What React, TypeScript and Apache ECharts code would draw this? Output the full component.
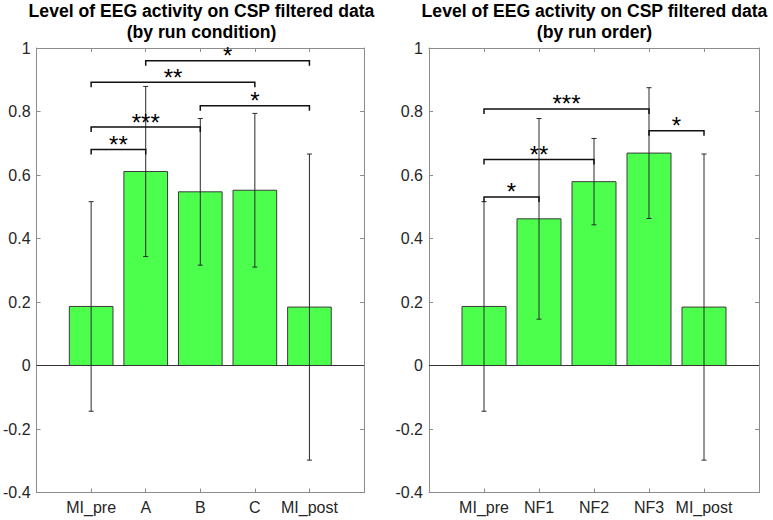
import React, { useEffect, useRef } from 'react';
import * as echarts from 'echarts';

// ---- data ----
const leftTitle = 'Level of EEG activity on CSP filtered data\n(by run condition)';
const rightTitle = 'Level of EEG activity on CSP filtered data\n(by run order)';

const leftCategories = ['MI_pre', 'A', 'B', 'C', 'MI_post'];
const leftMeans = [0.186, 0.611, 0.547, 0.552, 0.184];
const leftErrors = [0.33, 0.268, 0.231, 0.242, 0.482];
// [fromIndex, toIndex, height, label]
const leftBrackets: [number, number, number, string][] = [
  [0, 1, 0.68, '**'],
  [0, 2, 0.751, '***'],
  [0, 3, 0.892, '**'],
  [2, 4, 0.818, '*'],
  [1, 4, 0.96, '*'],
];

const rightCategories = ['MI_pre', 'NF1', 'NF2', 'NF3', 'MI_post'];
const rightMeans = [0.186, 0.462, 0.579, 0.669, 0.184];
const rightErrors = [0.33, 0.316, 0.136, 0.206, 0.482];
const rightBrackets: [number, number, number, string][] = [
  [0, 1, 0.531, '*'],
  [0, 2, 0.649, '**'],
  [0, 3, 0.808, '***'],
  [3, 4, 0.739, '*'],
];

const yMin = -0.4;
const yMax = 1;
const yInterval = 0.2;

const FONT = "'Liberation Sans', Arial, Helvetica, sans-serif";
const AXIS_COLOR = '#8c8c8c';
const TEXT_COLOR = '#262626';
const BAR_FILL = '#4dff4d';
const BAR_EDGE = '#3c3c3c';

function axesFor(gridIndex: number, cats: string[]) {
  const lineStyle = { color: AXIS_COLOR, width: 1 };
  const xAxes = [
    {
      type: 'value', gridIndex, min: 0, max: cats.length + 1, interval: 1,
      axisLine: { show: true, onZero: false, lineStyle },
      axisTick: { show: true, inside: true, length: 4, lineStyle },
      splitLine: { show: false },
      axisLabel: {
        show: true, margin: 7, color: TEXT_COLOR, fontSize: 16, fontFamily: FONT,
        formatter: (v: number) => cats[Math.round(v) - 1] ?? '',
      },
    },
    {
      type: 'value', gridIndex, position: 'top', min: 0, max: cats.length + 1, interval: 1,
      axisLine: { show: true, onZero: false, lineStyle },
      axisTick: { show: true, inside: true, length: 4, lineStyle },
      splitLine: { show: false },
      axisLabel: { show: false },
    },
  ];
  const yAxes = [
    {
      type: 'value', gridIndex, min: yMin, max: yMax, interval: yInterval,
      axisLine: { show: true, onZero: false, lineStyle },
      axisTick: { show: true, inside: true, length: 4, lineStyle },
      splitLine: { show: false },
      axisLabel: {
        show: true, margin: 6, color: TEXT_COLOR, fontSize: 16, fontFamily: FONT,
        formatter: (v: number) => String(parseFloat(v.toFixed(1))),
      },
    },
    {
      type: 'value', gridIndex, position: 'right', min: yMin, max: yMax, interval: yInterval,
      axisLine: { show: true, onZero: false, lineStyle },
      axisTick: { show: true, inside: true, length: 4, lineStyle },
      splitLine: { show: false },
      axisLabel: { show: false },
    },
  ];
  return { xAxes, yAxes };
}

function seriesFor(gridIndex: number, cats: string[], means: number[], errors: number[], brackets: [number, number, number, string][]) {
  const xAxisIndex = gridIndex * 2;
  const yAxisIndex = gridIndex * 2;
  const n = cats.length;
  return [
    {
      type: 'custom', xAxisIndex, yAxisIndex, z: 2,
      data: means.map((m, i) => [i + 1, m]),
      renderItem: (params: any, api: any) => {
        const x = api.value(0);
        const y = api.value(1);
        const p0 = api.coord([x, 0]);
        const p1 = api.coord([x, y]);
        const w = api.size([0.8, 0])[0];
        return {
          type: 'rect',
          shape: { x: p0[0] - w / 2, y: Math.min(p0[1], p1[1]), width: w, height: Math.abs(p0[1] - p1[1]) },
          style: { fill: BAR_FILL, stroke: BAR_EDGE, lineWidth: 1 },
        };
      },
    },
    {
      type: 'line', xAxisIndex, yAxisIndex, z: 3, showSymbol: false, symbol: 'none',
      data: [[0, 0], [n + 1, 0]],
      lineStyle: { color: '#333333', width: 1 },
      silent: true,
    },
    {
      type: 'custom', xAxisIndex, yAxisIndex, z: 4,
      data: means.map((m, i) => [i + 1, m, errors[i]]),
      renderItem: (params: any, api: any) => {
        const x = api.value(0);
        const m = api.value(1);
        const e = api.value(2);
        const lo = api.coord([x, m - e]);
        const hi = api.coord([x, m + e]);
        const c = 2.5;
        const style = { stroke: '#2a2a2a', lineWidth: 1 };
        return {
          type: 'group',
          children: [
            { type: 'line', shape: { x1: lo[0], y1: lo[1], x2: hi[0], y2: hi[1] }, style },
            { type: 'line', shape: { x1: lo[0] - c, y1: lo[1], x2: lo[0] + c, y2: lo[1] }, style },
            { type: 'line', shape: { x1: hi[0] - c, y1: hi[1], x2: hi[0] + c, y2: hi[1] }, style },
          ],
        };
      },
    },
    {
      type: 'custom', xAxisIndex, yAxisIndex, z: 5,
      data: brackets.map((b) => [b[0] + 1, b[1] + 1, b[2]]),
      renderItem: (params: any, api: any) => {
        const b = brackets[params.dataIndex];
        const a = api.coord([api.value(0), api.value(2)]);
        const z = api.coord([api.value(1), api.value(2)]);
        const drop = 5;
        return {
          type: 'group',
          children: [
            {
              type: 'polyline',
              shape: { points: [[a[0], a[1] + drop], [a[0], a[1]], [z[0], z[1]], [z[0], z[1] + drop]] },
              style: { stroke: '#111111', lineWidth: 1.5, fill: 'none' },
            },
            {
              type: 'text',
              x: (a[0] + z[0]) / 2,
              y: a[1] - 5,
              style: {
                text: b[3], fill: '#000000', fontSize: 24, fontFamily: FONT,
                align: 'center', verticalAlign: 'middle',
              },
            },
          ],
        };
      },
    },
  ];
}

export default function App() {
  const ref = useRef<HTMLDivElement>(null);
  useEffect(() => {
    if (!ref.current) return;
    const chart = echarts.init(ref.current, undefined, { renderer: 'svg' });
    const l = axesFor(0, leftCategories);
    const r = axesFor(1, rightCategories);
    const titleStyle = { fontSize: 17.6, fontWeight: 'bold', color: '#000000', fontFamily: FONT, lineHeight: 20.5 };
    chart.setOption({
      animation: false,
      backgroundColor: '#ffffff',
      title: [
        { text: leftTitle, left: 201.5, top: 1, padding: 0, textAlign: 'center', textStyle: titleStyle },
        { text: rightTitle, left: 594.5, top: 1, padding: 0, textAlign: 'center', textStyle: titleStyle },
      ],
      grid: [
        { left: 35, top: 48, width: 329, height: 444.5 },
        { left: 429, top: 48, width: 330, height: 444.5 },
      ],
      xAxis: [...l.xAxes, ...r.xAxes],
      yAxis: [...l.yAxes, ...r.yAxes],
      series: [
        ...seriesFor(0, leftCategories, leftMeans, leftErrors, leftBrackets),
        ...seriesFor(1, rightCategories, rightMeans, rightErrors, rightBrackets),
      ],
    });
    return () => chart.dispose();
  }, []);
  return <div ref={ref} style={{ position: 'fixed', left: 0, top: 0, width: 773, height: 520 }} />;
}
